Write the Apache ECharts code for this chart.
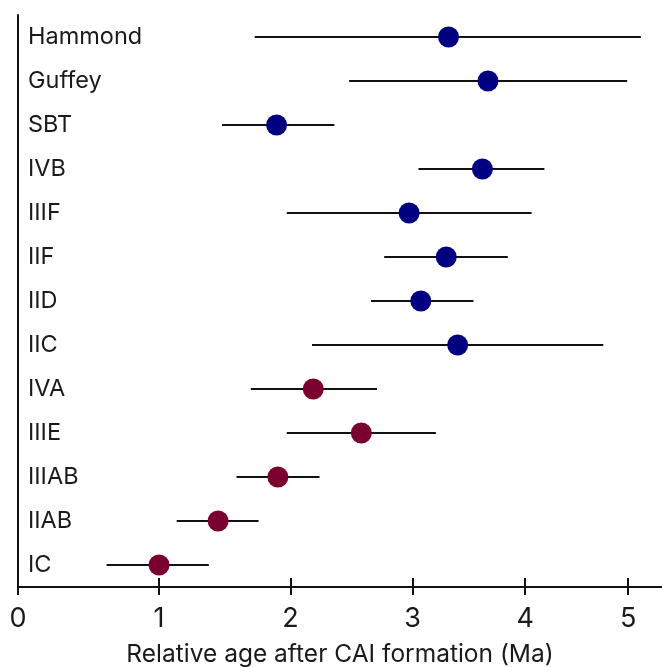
<!DOCTYPE html>
<html>
<head>
<meta charset="utf-8">
<script src="https://cdn.jsdelivr.net/npm/echarts@6/dist/echarts.min.js"></script>
<style>html,body{margin:0;padding:0;background:#fff}#c{width:662px;height:667px}</style>
</head>
<body>
<div id="c"></div>
<script>
// Categories from bottom to top
const categories = ['IC','IIAB','IIIAB','IIIE','IVA','IIC','IID','IIF','IIIF','IVB','SBT','Guffey','Hammond'];
// Central age (Ma) and lower / upper bounds
const ages  = [1.00, 1.44, 1.90, 2.57, 2.18, 3.39, 3.07, 3.29, 2.97, 3.61, 1.89, 3.66, 3.31];
const lower = [0.62, 1.13, 1.58, 1.97, 1.69, 2.17, 2.65, 2.76, 1.97, 3.05, 1.47, 2.47, 1.72];
const upper = [1.37, 1.75, 2.23, 3.20, 2.70, 4.75, 3.53, 3.84, 4.06, 4.18, 2.35, 4.99, 5.13];
// Group: maroon (m) vs navy (n)
const groups = ['m','m','m','m','m','n','n','n','n','n','n','n','n'];
const tickValues = [0, 1, 2, 3, 4, 5];
const axisMaxMa = 5.35;

// The reference's age axis is slightly compressive (non-uniform tick spacing)
const K = 0.0326;
const warp = v => v - K * v * v;
const unwarp = t => (1 - Math.sqrt(1 - 4 * K * t)) / (2 * K);

const FONT = 'Inter, "Noto Sans", sans-serif';
const chart = echarts.init(document.getElementById('c'), null, {renderer: 'canvas'});

const errData = categories.map((c, i) => [warp(lower[i]), warp(upper[i]), i]);
const navyPts = [], maroonPts = [];
categories.forEach((c, i) => {
  (groups[i] === 'n' ? navyPts : maroonPts).push([warp(ages[i]), i]);
});

const baseX = {
  type: 'value', min: 0, max: warp(axisMaxMa),
  splitLine: {show: false}
};

chart.setOption({
  animation: false,
  grid: {left: 18, right: 0, top: 15, bottom: 80, containLabel: false, outerBoundsMode: 'none'},
  xAxis: [
    Object.assign({}, baseX, {
      position: 'bottom',
      axisLine: {show: true, lineStyle: {color: '#111', width: 2}},
      axisTick: {show: true, inside: false, length: 8, lineStyle: {color: '#111', width: 2},
                 customValues: tickValues.map(warp)},
      axisLabel: {show: true, customValues: tickValues.map(warp),
                  formatter: v => String(Math.round(unwarp(v))),
                  fontFamily: FONT, fontSize: 27, color: '#1a1a1a', margin: 18},
      name: 'Relative age after CAI formation (Ma)',
      nameLocation: 'middle', nameGap: 55,
      nameTextStyle: {fontFamily: FONT, fontSize: 24.5, color: '#1a1a1a'}
    }),
    Object.assign({}, baseX, {
      position: 'bottom', offset: 0,
      axisLine: {show: false},
      axisTick: {show: true, inside: true, length: 9, lineStyle: {color: '#111', width: 2},
                 customValues: tickValues.map(warp)},
      axisLabel: {show: false}
    })
  ],
  yAxis: {
    type: 'category', data: categories,
    axisLine: {show: true, lineStyle: {color: '#111', width: 2}},
    axisTick: {show: false},
    axisLabel: {inside: true, margin: 10, fontFamily: FONT, fontSize: 23.5, color: '#1a1a1a', align: 'left'},
    splitLine: {show: false}
  },
  series: [
    {
      type: 'custom',
      data: errData,
      encode: {x: [0, 1], y: 2},
      renderItem: (params, api) => {
        const p1 = api.coord([api.value(0), api.value(2)]);
        const p2 = api.coord([api.value(1), api.value(2)]);
        return {
          type: 'line',
          shape: {x1: p1[0], y1: p1[1], x2: p2[0], y2: p2[1]},
          style: {stroke: '#111', lineWidth: 2}
        };
      },
      z: 1
    },
    {
      type: 'scatter', data: navyPts, symbol: 'circle', symbolSize: 21,
      itemStyle: {color: '#000080', opacity: 1}, z: 3
    },
    {
      type: 'scatter', data: maroonPts, symbol: 'circle', symbolSize: 21,
      itemStyle: {color: '#7a0030', opacity: 1}, z: 3
    }
  ]
});
</script>
</body>
</html>
